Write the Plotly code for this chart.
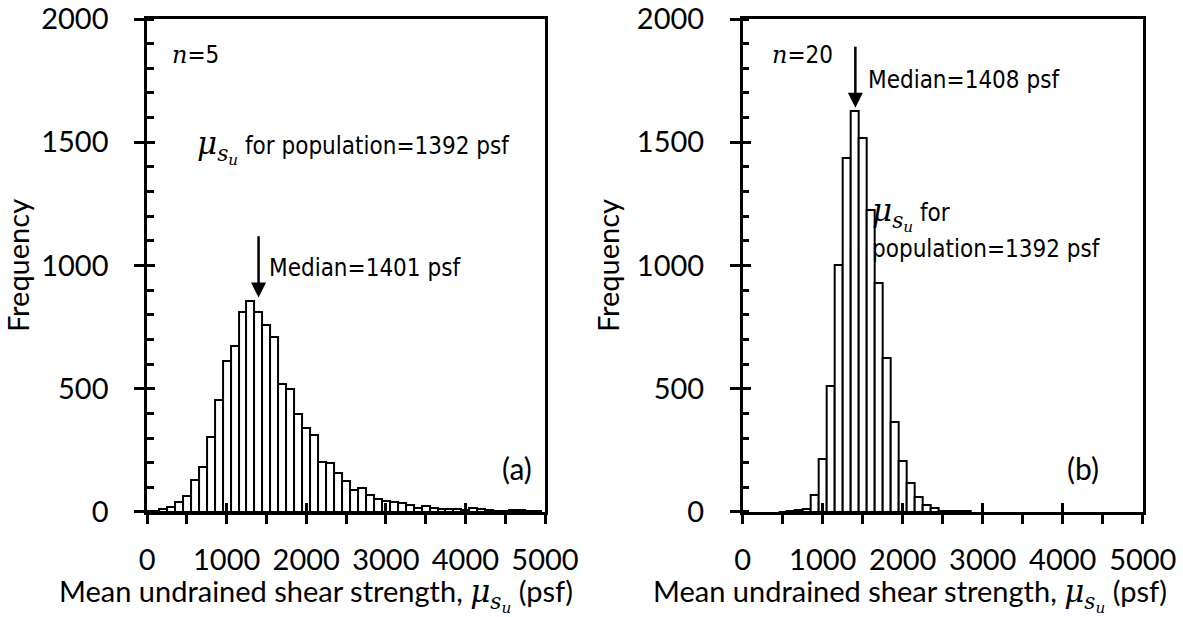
import plotly.graph_objects as go

# Bin centres (psf) and frequencies, n = 5
bins_n5 = [100, 200, 300, 400, 500, 600, 700, 800, 900, 1000,
           1100, 1200, 1300, 1400, 1500, 1600, 1700, 1800, 1900, 2000,
           2100, 2200, 2300, 2400, 2500, 2600, 2700, 2800, 2900, 3000,
           3100, 3200, 3300, 3400, 3500, 3600, 3700, 3800, 3900, 4000,
           4100, 4200, 4300, 4400, 4500, 4600, 4700, 4800, 4900]
freq_n5 = [5, 12, 22, 40, 65, 130, 182, 306, 453, 612,
           673, 810, 857, 810, 758, 708, 518, 497, 399, 341,
           311, 202, 198, 158, 126, 88, 96, 69, 51, 45,
           41, 37, 27, 18, 24, 15, 11, 11, 11, 8,
           15, 11, 7, 4, 5, 9, 7, 4, 4]

# Bin centres (psf) and frequencies, n = 20
bins_n20 = [500, 600, 700, 800, 900, 1000, 1100, 1200, 1300, 1400,
            1500, 1600, 1700, 1800, 1900, 2000, 2100, 2200, 2300, 2400,
            2500, 2600, 2700, 2800]
freq_n20 = [1, 3, 7, 13, 68, 214, 511, 1000, 1436, 1628,
            1518, 1224, 927, 623, 365, 205, 119, 61, 27, 15,
            4, 3, 2, 2]

median_n5 = 1401
median_n20 = 1408
pop_mean = 1392
bin_width = 100

x_ticks = [0, 1000, 2000, 3000, 4000, 5000]
y_ticks = [0, 500, 1000, 1500, 2000]


def mu(size):
    return (f'<span style="font-size:{size}px;font-family:DejaVu Serif">'
            '<i>μ</i><sub><i>s<sub>u</sub></i></sub></span>')


LABEL_FONT = dict(family="Lato", size=29, color="black")
NOTE_FONT = dict(family="Liberation Sans Narrow, DejaVu Sans Condensed, Roboto",
                 size=24, color="black")
MATH_N = '<span style="font-family:DejaVu Serif"><i>n</i></span>'

fig = go.Figure()

bar_style = dict(marker=dict(color="white", line=dict(color="black", width=2)),
                 width=bin_width, showlegend=False, hoverinfo="x+y")
fig.add_trace(go.Bar(x=bins_n5, y=freq_n5, xaxis="x", yaxis="y", **bar_style))
fig.add_trace(go.Bar(x=bins_n20, y=freq_n20, xaxis="x2", yaxis="y2", **bar_style))
# empty traces on the overlay axes that carry the inner half of the major ticks
fig.add_trace(go.Scatter(x=[], y=[], xaxis="x3", yaxis="y3", showlegend=False))
fig.add_trace(go.Scatter(x=[], y=[], xaxis="x4", yaxis="y4", showlegend=False))

dom_left = [0.1243, 0.4607]
dom_right = [0.6278, 0.9660]
dom_y = [0.1702, 0.9692]

y_title = dict(text="Frequency", font=LABEL_FONT, standoff=9)


def main_x(domain, anchor):
    return dict(domain=domain, anchor=anchor, range=[0, 5000], tickvals=x_ticks,
                ticktext=[str(v) for v in x_ticks], ticks="outside", ticklen=9,
                tickwidth=2.5, tickcolor="black", showline=True, linewidth=2.5,
                linecolor="black", mirror=True, showgrid=False, zeroline=False,
                tickfont=LABEL_FONT, ticklabelstandoff=11, automargin=False,
                minor=dict(dtick=500, ticks="outside", ticklen=9, tickwidth=2.5,
                           tickcolor="black", showgrid=False))


def main_y(anchor):
    return dict(domain=dom_y, anchor=anchor, range=[0, 2000], tickvals=y_ticks,
                ticks="outside", ticklen=10, tickwidth=2.5, tickcolor="black",
                showline=True, linewidth=2.5, linecolor="black", mirror=True,
                showgrid=False, zeroline=False, tickfont=LABEL_FONT,
                ticklabelstandoff=20, title=y_title, automargin=False,
                minor=dict(dtick=100, ticks="inside", ticklen=7, tickwidth=2.5,
                           tickcolor="black", showgrid=False))


def over_x(base, anchor):
    return dict(overlaying=base, anchor=anchor, range=[0, 5000], tickvals=x_ticks,
                ticks="inside", ticklen=9, tickwidth=2.5, tickcolor="black",
                showticklabels=False, showline=False, showgrid=False,
                zeroline=False, automargin=False)


def over_y(base, anchor):
    return dict(overlaying=base, anchor=anchor, range=[0, 2000], tickvals=y_ticks,
                ticks="inside", ticklen=8, tickwidth=2.5, tickcolor="black",
                showticklabels=False, showline=False, showgrid=False,
                zeroline=False, automargin=False)


fig.update_layout(
    width=1183, height=617, margin=dict(l=0, r=0, t=0, b=0, autoexpand=False),
    paper_bgcolor="white", plot_bgcolor="rgba(0,0,0,0)", bargap=0,
    xaxis=main_x(dom_left, "y"), yaxis=main_y("x"),
    xaxis2=main_x(dom_right, "y2"), yaxis2=main_y("x2"),
    xaxis3=over_x("x", "y3"), yaxis3=over_y("y", "x3"),
    xaxis4=over_x("x2", "y4"), yaxis4=over_y("y2", "x4"),
)

# x-axis titles, set a little left of each panel's centre
x_title_text = f"Mean undrained shear strength, {mu(31)} (psf)"
for cx in (0.2670, 0.7690):
    fig.add_annotation(xref="paper", yref="paper", x=cx, y=0.036,
                       xanchor="center", yanchor="middle", showarrow=False,
                       text=x_title_text, font=LABEL_FONT)

notes = [
    # panel (a)
    dict(xref="x", yref="y", x=290, y=1855, text=f"{MATH_N}=5", xanchor="left"),
    dict(xref="x", yref="y", x=600, y=1482,
         text=f"{mu(31)} for population={pop_mean} psf", xanchor="left"),
    dict(xref="x", yref="y", x=1510, y=991, text=f"Median={median_n5} psf",
         xanchor="left"),
    dict(xref="x", yref="y", x=4650, y=179, text="(a)", xanchor="center",
         font=dict(family="Lato", size=30, color="black")),
    # panel (b)
    dict(xref="x2", yref="y2", x=341, y=1855, text=f"{MATH_N}=20", xanchor="left"),
    dict(xref="x2", yref="y2", x=1540, y=1754, text=f"Median={median_n20} psf",
         xanchor="left"),
    dict(xref="x2", yref="y2", x=1590, y=1207, text=f"{mu(31)} for",
         xanchor="left"),
    dict(xref="x2", yref="y2", x=1590, y=1065, text=f"population={pop_mean} psf",
         xanchor="left"),
    dict(xref="x2", yref="y2", x=4250, y=179, text="(b)", xanchor="center",
         font=dict(family="Lato", size=30, color="black")),
]
for n in notes:
    n.setdefault("font", NOTE_FONT)
    fig.add_annotation(showarrow=False, yanchor="middle", **n)

# arrows pointing at the sample medians
arrow = dict(showarrow=True, arrowhead=2, arrowsize=1.2, arrowwidth=2.5,
             arrowcolor="black", text="")
fig.add_annotation(xref="x", yref="y", x=median_n5, y=870, axref="x", ayref="y",
                   ax=median_n5, ay=1125, **arrow)
fig.add_annotation(xref="x2", yref="y2", x=median_n20, y=1640, axref="x2",
                   ayref="y2", ax=median_n20, ay=1893, **arrow)

fig.write_html("out.html")
